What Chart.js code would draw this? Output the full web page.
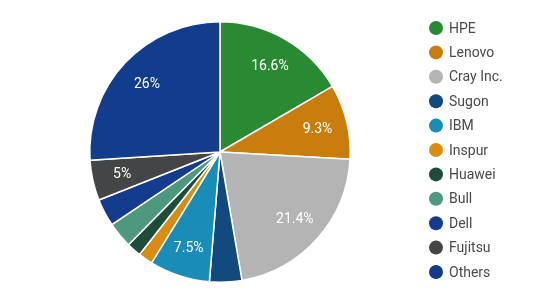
<!DOCTYPE html>
<html>
<head>
<meta charset="utf-8">
<script src="https://cdn.jsdelivr.net/npm/chart.js@4"></script>
<style>
  html, body { margin: 0; padding: 0; background: #ffffff; }
  #wrap { width: 550px; height: 307px; position: relative; }
</style>
</head>
<body>
<div id="wrap"><canvas id="pie"></canvas></div>
<script>
// Vendor share (percent)
const vendors = ['HPE', 'Lenovo', 'Cray Inc.', 'Sugon', 'IBM', 'Inspur', 'Huawei', 'Bull', 'Dell', 'Fujitsu', 'Others'];
const shares = [16.6, 9.3, 21.4, 4.0, 7.5, 1.8, 1.8, 3.2, 3.4, 5, 26];
// only these slices carry a label in the original
const shownLabels = ['16.6%', '9.3%', '21.4%', '', '7.5%', '', '', '', '', '5%', '26%'];
const sliceColors = ['#2a8a34', '#c97d0c', '#b4b4b4', '#124a7e', '#1a8cb8', '#d98b12', '#1f4b3a', '#4f9880', '#143c8e', '#444546', '#123c8c'];

// Percent labels inside the slices
const sliceLabels = {
  id: 'sliceLabels',
  afterDatasetsDraw(chart) {
    const ctx = chart.ctx;
    const meta = chart.getDatasetMeta(0);
    ctx.save();
    ctx.fillStyle = '#ffffff';
    ctx.font = '14px Roboto, sans-serif';
    ctx.textAlign = 'center';
    ctx.textBaseline = 'middle';
    meta.data.forEach((arc, i) => {
      if (!shownLabels[i]) return;
      const mid = (arc.startAngle + arc.endAngle) / 2;
      const r = arc.outerRadius * 0.77;
      ctx.fillText(shownLabels[i], arc.x + Math.cos(mid) * r, arc.y + Math.sin(mid) * r + 1);
    });
    ctx.restore();
  }
};

// Legend on the right, circle markers
const sideLegend = {
  id: 'sideLegend',
  afterDraw(chart) {
    const ctx = chart.ctx;
    const x0 = 436, y0 = 28, step = 24.4;
    ctx.save();
    ctx.font = '14px Roboto, sans-serif';
    ctx.textBaseline = 'middle';
    ctx.textAlign = 'left';
    vendors.forEach((name, i) => {
      const y = y0 + i * step;
      ctx.beginPath();
      ctx.arc(x0, y, 7, 0, Math.PI * 2);
      ctx.fillStyle = sliceColors[i];
      ctx.fill();
      ctx.fillStyle = '#4a4a4a';
      ctx.fillText(name, x0 + 13, y + 1);
    });
    ctx.restore();
  }
};

new Chart(document.getElementById('pie'), {
  type: 'pie',
  data: {
    labels: vendors,
    datasets: [{
      data: shares,
      backgroundColor: sliceColors,
      borderColor: '#ffffff',
      borderWidth: 1.5,
      hoverOffset: 0
    }]
  },
  options: {
    responsive: true,
    maintainAspectRatio: false,
    animation: false,
    layout: { padding: { left: 89, right: 199, top: 21, bottom: 24 } },
    plugins: {
      legend: { display: false },
      tooltip: { enabled: false }
    }
  },
  plugins: [sliceLabels, sideLegend]
});
</script>
</body>
</html>
